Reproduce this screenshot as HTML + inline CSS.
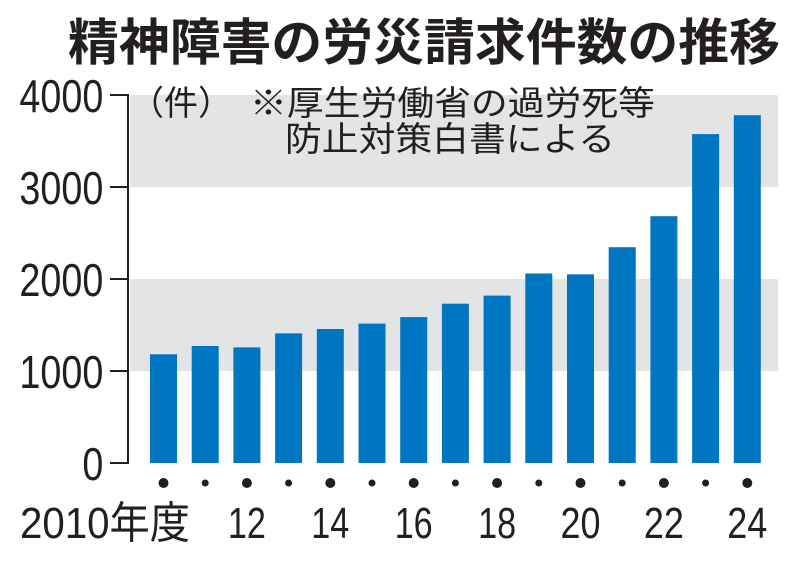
<!DOCTYPE html>
<html><head><meta charset="utf-8"><style>
html,body{margin:0;padding:0;background:#fff;}
svg{display:block;}
text{font-family:"Liberation Sans","Noto Sans CJK JP",sans-serif;fill:#231f20;}
</style></head><body>
<svg width="800" height="564" viewBox="0 0 800 564" xmlns="http://www.w3.org/2000/svg">
<text x="424" y="60" font-size="50" font-weight="bold" text-anchor="middle" textLength="712" lengthAdjust="spacingAndGlyphs" style="font-family:'Noto Sans CJK JP',sans-serif">精神障害の労災請求件数の推移</text>
<rect x="130" y="95" width="648" height="92" fill="#e3e4e6"/>
<rect x="130" y="279" width="648" height="92" fill="#e3e4e6"/>
<g fill="#0075c1">
<rect x="150" y="354.3" width="27" height="108.7"/>
<rect x="191.7" y="346" width="27" height="117"/>
<rect x="233.4" y="347.4" width="27" height="115.6"/>
<rect x="275.1" y="333.4" width="27" height="129.6"/>
<rect x="316.8" y="329.0" width="27" height="134"/>
<rect x="358.5" y="323.6" width="27" height="139.4"/>
<rect x="400.2" y="317.1" width="27" height="145.9"/>
<rect x="441.9" y="303.7" width="27" height="159.3"/>
<rect x="483.6" y="295.6" width="27" height="167.4"/>
<rect x="525.3" y="273.5" width="27" height="189.5"/>
<rect x="567" y="274.3" width="27" height="188.7"/>
<rect x="608.7" y="247.2" width="27" height="215.8"/>
<rect x="650.4" y="216.2" width="27" height="246.8"/>
<rect x="692.1" y="134.1" width="27" height="328.9"/>
<rect x="733.8" y="115.2" width="27" height="347.8"/>
</g>
<path d="M110 95H128V463H110M110 187H128M110 279H128M110 371H128" fill="none" stroke="#231f20" stroke-width="2"/>
<g font-size="46" text-anchor="end" transform="scale(0.82,1)">
<text x="126" y="112">4000</text>
<text x="126" y="204">3000</text>
<text x="126" y="296">2000</text>
<text x="126" y="388">1000</text>
<text x="126" y="480">0</text>
</g>
<text x="130" y="115" font-size="34" style="font-family:'Noto Sans CJK JP',sans-serif">（件）</text>
<text x="250" y="115" font-size="34" textLength="405" lengthAdjust="spacingAndGlyphs" style="font-family:'Noto Sans CJK JP',sans-serif">※厚生労働省の過労死等</text>
<text x="285" y="151" font-size="34" textLength="330" lengthAdjust="spacingAndGlyphs" style="font-family:'Noto Sans CJK JP',sans-serif">防止対策白書による</text>
<g fill="#231f20">
<circle cx="163.5" cy="483" r="5"/><circle cx="205.2" cy="483" r="3.5"/>
<circle cx="246.9" cy="483" r="5"/><circle cx="288.6" cy="483" r="3.5"/>
<circle cx="330.3" cy="483" r="5"/><circle cx="372" cy="483" r="3.5"/>
<circle cx="413.7" cy="483" r="5"/><circle cx="455.4" cy="483" r="3.5"/>
<circle cx="497.1" cy="483" r="5"/><circle cx="538.8" cy="483" r="3.5"/>
<circle cx="580.5" cy="483" r="5"/><circle cx="622.2" cy="483" r="3.5"/>
<circle cx="663.9" cy="483" r="5"/><circle cx="705.6" cy="483" r="3.5"/>
<circle cx="747.3" cy="483" r="5"/>
</g>
<text x="20" y="538" font-size="44" textLength="170" lengthAdjust="spacingAndGlyphs">2010年度</text>
<g font-size="44" text-anchor="middle">
<text x="246.9" y="538" textLength="38" lengthAdjust="spacingAndGlyphs">12</text>
<text x="330.3" y="538" textLength="38" lengthAdjust="spacingAndGlyphs">14</text>
<text x="413.7" y="538" textLength="38" lengthAdjust="spacingAndGlyphs">16</text>
<text x="497.1" y="538" textLength="38" lengthAdjust="spacingAndGlyphs">18</text>
<text x="580.5" y="538" textLength="40" lengthAdjust="spacingAndGlyphs">20</text>
<text x="663.9" y="538" textLength="40" lengthAdjust="spacingAndGlyphs">22</text>
<text x="747.3" y="538" textLength="40" lengthAdjust="spacingAndGlyphs">24</text>
</g>
</svg>
</body></html>
